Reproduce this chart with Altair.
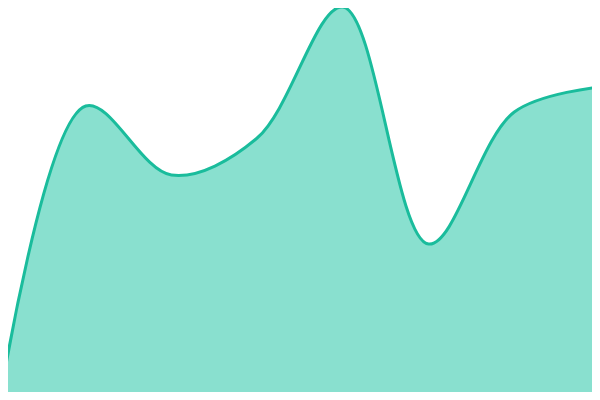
import altair as alt
import pandas as pd

xs = [0, 1, 2, 3, 4, 5, 6, 7]
values = [0, 294, 225, 262, 393, 156, 288, 313]

df = pd.DataFrame({"x": xs, "v": values})

# the visible plot covers the reference's inner window [8, 592] x [8, 392]
xenc = alt.X("x:Q", axis=None, scale=alt.Scale(domain=[8 / 600 * 7, 592 / 600 * 7], nice=False, zero=False))
yenc = alt.Y("v:Q", axis=None, scale=alt.Scale(domain=[8, 392], nice=False, zero=False))

area = alt.Chart(df).mark_area(interpolate="catmull-rom", tension=0.5, color="#89e0cf", opacity=1, clip=True).encode(x=xenc, y=yenc)
line = alt.Chart(df).mark_line(interpolate="catmull-rom", tension=0.5, color="#1abc9c", strokeWidth=3, clip=True).encode(x=xenc, y=yenc)

chart = (area + line).properties(
    width=584, height=384,
    padding=0,
    autosize=alt.AutoSizeParams(type="none"),
).configure_view(stroke=None)

chart.save("out.html", embed_options={"renderer": "svg", "actions": False})
